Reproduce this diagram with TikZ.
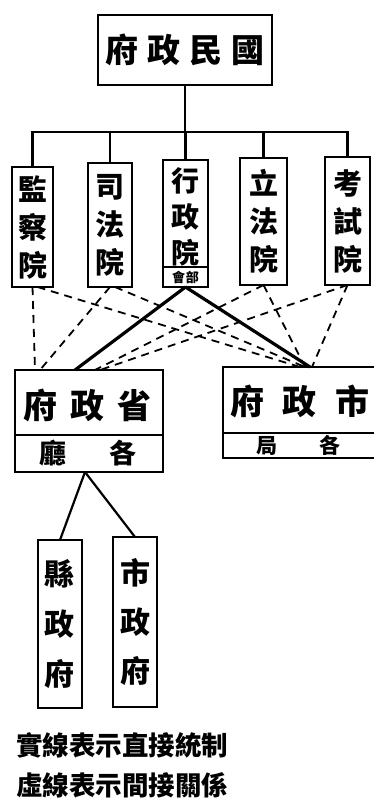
\documentclass[tikz,border=0pt]{standalone}
\usepackage{fontspec}
\newfontfamily\cjk{Noto Sans CJK TC}
\begin{document}
\begin{tikzpicture}[x=1pt,y=-1pt,
  box/.style={draw, line width=2.4pt, inner sep=0pt, outer sep=0pt, rectangle},
  txt/.style={inner sep=0pt, font=\cjk\bfseries, align=center},
  tree/.style={line width=2.2pt},
  strong/.style={line width=3.2pt},
  dashline/.style={line width=1.8pt, dash pattern=on 8pt off 6pt}]
\useasboundingbox (0,0) rectangle (373,804);
\fill[white] (0,0) rectangle (373,804);
% top
\node[box, minimum width=174pt, minimum height=70pt, txt, font=\cjk\bfseries\fontsize{33}{33}\selectfont] (top) at (185,50) {府\hspace{9pt}政\hspace{9pt}民\hspace{9pt}國};
% five yuan
\node[box, minimum width=41pt, minimum height=120pt, txt, font=\cjk\bfseries\fontsize{29}{38}\selectfont] (jian) at (32.5,227) {\raisebox{-8pt}{\parbox{29pt}{\centering 監\\察\\院}}};
\node[box, minimum width=44pt, minimum height=124pt, txt, font=\cjk\bfseries\fontsize{29}{38}\selectfont] (si) at (110,225) {\raisebox{-8pt}{\parbox{29pt}{\centering 司\\法\\院}}};
\node[box, minimum width=45pt, minimum height=127pt] (xing) at (185.5,223.5) {};
\node[txt, font=\cjk\bfseries\fontsize{28}{36}\selectfont] (xingname) at (185.5,217) {行\\政\\院};
\node[txt, font=\cjk\bfseries\fontsize{13}{13}\selectfont] (xingsub) at (185.5,277) {會\hspace{1pt}部};
\draw[line width=1.8pt] ([yshift=20pt]xing.south west) -- ([yshift=20pt]xing.south east);
\node[box, minimum width=47pt, minimum height=127pt, txt, font=\cjk\bfseries\fontsize{29}{38}\selectfont] (li) at (263.5,221.5) {\raisebox{-8pt}{\parbox{29pt}{\centering 立\\法\\院}}};
\node[box, minimum width=45pt, minimum height=128pt, txt, font=\cjk\bfseries\fontsize{29}{38}\selectfont] (kao) at (347.5,221) {\raisebox{-8pt}{\parbox{29pt}{\centering 考\\試\\院}}};
% provincial and municipal
\node[box, minimum width=148pt, minimum height=102pt] (sheng) at (89,421) {};
\draw[line width=2pt] ([yshift=37pt]sheng.south west) -- ([yshift=37pt]sheng.south east);
\node[txt, font=\cjk\bfseries\fontsize{34}{34}\selectfont] (shengname) at (87.5,405) {府\hspace{13pt}政\hspace{13pt}省};
\node[txt, font=\cjk\bfseries\fontsize{27}{27}\selectfont] (shengsub) at (88,453) {廳\hspace{43pt}各};
\node[box, minimum width=154pt, minimum height=91pt] (shi) at (300,412.5) {};
\draw[line width=2pt] ([yshift=25pt]shi.south west) -- ([yshift=25pt]shi.south east);
\node[txt, font=\cjk\bfseries\fontsize{34}{34}\selectfont] (shiname) at (300,401) {府\hspace{19pt}政\hspace{19pt}市};
\node[txt, font=\cjk\bfseries\fontsize{21}{21}\selectfont] (shisub) at (298.5,445) {局\hspace{42pt}各};
% county and city
\node[box, minimum width=44pt, minimum height=168pt, txt, font=\cjk\bfseries\fontsize{30}{50}\selectfont] (xian) at (60,624) {\raisebox{-4pt}{\parbox{30pt}{\centering 縣\\政\\府}}};
\node[box, minimum width=44pt, minimum height=170pt, txt, font=\cjk\bfseries\fontsize{30}{49}\selectfont] (shizf) at (135,622) {\raisebox{-4pt}{\parbox{30pt}{\centering 市\\政\\府}}};
% legend
\node[txt, anchor=west, font=\cjk\bfseries\fontsize{26.5}{26.5}\selectfont] (legend1) at (16,745) {實線表示直接統制};
\node[txt, anchor=west, font=\cjk\bfseries\fontsize{26.5}{26.5}\selectfont] (legend2) at (16,785) {虛線表示間接關係};
% tree connectors
\coordinate (bus) at (185,132);
\draw[tree] (top.south) -- (bus);
\draw[tree] (jian.north) |- (bus);
\draw[tree] (kao.north) |- (bus);
\draw[tree] (si.north) -- (si.north |- bus);
\draw[tree] (li.north) -- (li.north |- bus);
\draw[tree] (xing.north) -- (xing.north |- bus);
% direct control
\draw[strong] (xing.south) -- ([xshift=60pt]sheng.north west);
\draw[strong] (xing.south) -- ([xshift=87pt]shi.north west);
\draw[tree] ([xshift=-4pt]sheng.south) -- (xian.north);
\draw[tree] ([xshift=-4pt]sheng.south) -- (shizf.north);
% indirect relations
\draw[dashline] (jian.south) -- ([xshift=20pt]sheng.north west);
\draw[dashline] (si.south) -- ([xshift=25pt]sheng.north west);
\draw[dashline] (li.south) -- ([xshift=80pt]sheng.north west);
\draw[dashline] (kao.south) -- ([xshift=85pt]sheng.north west);
\draw[dashline] ([xshift=5pt]jian.south) -- ([xshift=77pt]shi.north west);
\draw[dashline] ([xshift=5pt]si.south) -- ([xshift=82pt]shi.north west);
\draw[dashline] (li.south) -- ([xshift=82pt]shi.north west);
\draw[dashline] (kao.south) -- ([xshift=89pt]shi.north west);
\end{tikzpicture}
\end{document}
